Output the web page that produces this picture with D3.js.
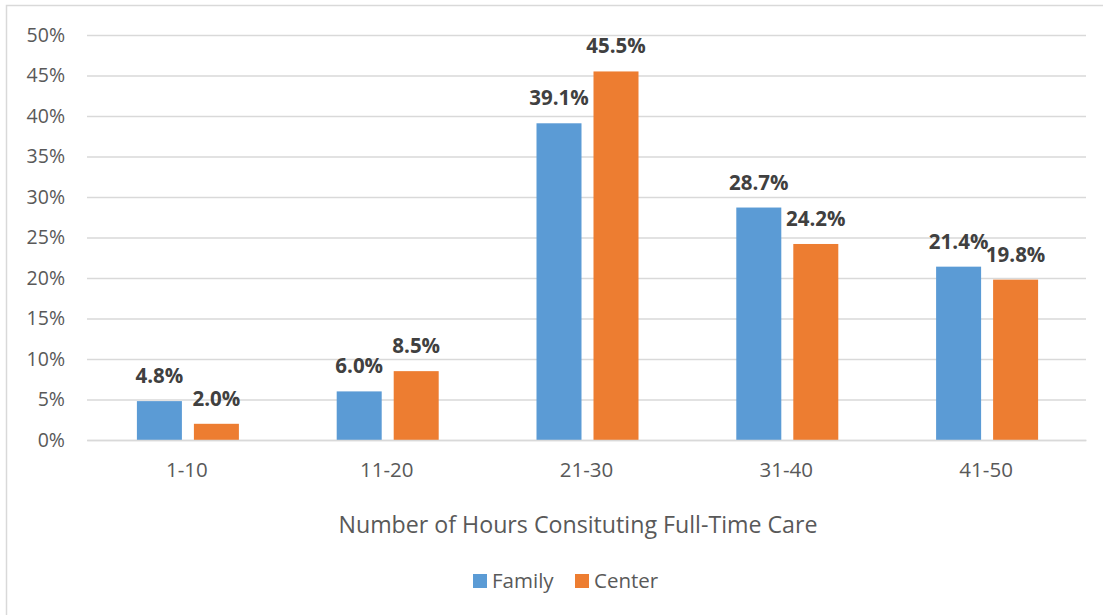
<!DOCTYPE html>
<html><head><meta charset="utf-8">
<script src="https://cdn.jsdelivr.net/npm/d3@7"></script>
<style>body{margin:0;background:#fff}svg{display:block}text{font-family:"Open Sans",sans-serif}</style>
</head><body><svg id="c" width="1103" height="615"></svg>
<script>
const categories = ["1-10","11-20","21-30","31-40","41-50"];
const family = [4.8, 6.0, 39.1, 28.7, 21.4];
const center = [2.0, 8.5, 45.5, 24.2, 19.8];
const seriesNames = ["Family","Center"];
const colors = ["#5B9BD5","#ED7D31"];
const yTicks = [0,5,10,15,20,25,30,35,40,45,50];

const svg = d3.select("#c");
// chart border
svg.append("path").attr("d","M6.5,615 V5.5 H1103").attr("fill","none").attr("stroke","#d9d9d9").attr("stroke-width",1.5);

const m = {left:87, right:1086, top:35, bottom:440};
const x = d3.scaleBand().domain(categories).range([m.left,m.right]);
const xs = d3.scaleBand().domain(seriesNames).range([0,102]).paddingInner(0.2105);
const y = d3.scaleLinear().domain([0,50]).range([m.bottom,m.top]);

const gy = svg.append("g").attr("transform",`translate(${m.left},0)`)
  .call(d3.axisLeft(y).tickValues(yTicks).tickSize(-(m.right-m.left)).tickFormat(d=>d+"%"));
gy.select(".domain").remove();
gy.selectAll(".tick line").attr("stroke","#d9d9d9").attr("stroke-width",1.3);
gy.selectAll(".tick text").attr("fill","#595959").attr("font-size",19.5).attr("text-anchor","end").attr("x",-22);

const data = categories.map((c,i)=>({c, vals:[family[i],center[i]]}));
const groups = svg.append("g").selectAll("g").data(data).join("g")
  .attr("transform",d=>`translate(${x(d.c)+x.bandwidth()/2-50},0)`);
groups.selectAll("rect").data(d=>d.vals.map((v,j)=>({v,s:seriesNames[j],j}))).join("rect")
  .attr("x",d=>xs(d.s)).attr("width",xs.bandwidth())
  .attr("y",d=>y(d.v)).attr("height",d=>y(0)-y(d.v))
  .attr("fill",d=>colors[d.j]);

groups.selectAll("text.v").data(d=>d.vals.map((v,j)=>({v,s:seriesNames[j],j}))).join("text")
  .attr("class","v")
  .attr("x",d=>xs(d.s)+xs.bandwidth()/2)
  .attr("y",d=>y(d.v)-18)
  .attr("text-anchor","middle").attr("font-size",20.5).attr("font-weight","bold").attr("fill","#404040")
  .text(d=>d.v.toFixed(1)+"%");

// baseline axis
const gx = svg.append("g").attr("transform",`translate(0,${m.bottom})`)
  .call(d3.axisBottom(x).tickSize(0).tickPadding(22));
gx.select(".domain").attr("stroke","#d9d9d9").attr("stroke-width",1.3);
gx.selectAll(".tick text").attr("fill","#595959").attr("font-size",20.5);

svg.append("text").attr("x",578).attr("y",533).attr("text-anchor","middle")
  .attr("font-size",23.2).attr("fill","#595959").text("Number of Hours Consituting Full-Time Care");

// legend
const lg = svg.append("g");
const legPos = [473, 575];
seriesNames.forEach((s,i)=>{
  lg.append("rect").attr("x",legPos[i]).attr("y",574).attr("width",14).attr("height",14).attr("fill",colors[i]);
  lg.append("text").attr("x",legPos[i]+19).attr("y",588).attr("font-size",20.5).attr("fill","#595959").text(s);
});
</script></body></html>
